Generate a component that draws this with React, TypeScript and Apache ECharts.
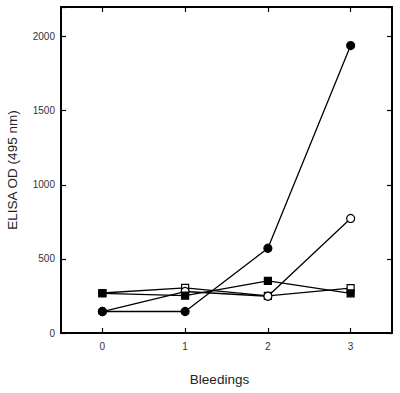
import React, { useEffect, useRef } from "react";
import * as echarts from "echarts";

const bleedings = ["0", "1", "2", "3"];
const openSquare = [270, 305, 250, 303];
const openCircle = [145, 280, 248, 773];
const filledCircle = [145, 145, 572, 1940];
const filledSquare = [268, 252, 352, 268];
const yTicks = [0, 500, 1000, 1500, 2000];

const FONT = "'Liberation Sans', Arial, Helvetica, sans-serif";

export default function App() {
  const ref = useRef<HTMLDivElement>(null);
  useEffect(() => {
    if (!ref.current) return;
    const chart = echarts.init(ref.current, undefined, { renderer: "svg" });
    const mk = (name: string, data: number[], symbol: string, filled: boolean, size: number) => ({
      name,
      type: "line",
      data,
      symbol,
      symbolSize: size,
      showAllSymbol: true,
      lineStyle: { color: "#000", width: 1.3 },
      itemStyle: { color: filled ? "#000" : "#fff", borderColor: "#000", borderWidth: 1.2 },
      emphasis: { disabled: true },
    });
    const frameLine = { show: true, onZero: false, lineStyle: { color: "#000", width: 2 } };
    const frameAxisTick = { show: true, inside: true, length: 5, lineStyle: { color: "#000", width: 1.2 } };
    chart.setOption({
      animation: false,
      grid: { left: 61, right: 8, top: 7, bottom: 60, containLabel: false, outerBoundsMode: "none" },
      xAxis: [
        {
          type: "category",
          data: bleedings,
          boundaryGap: true,
          name: "Bleedings",
          nameLocation: "middle",
          nameGap: 39,
          nameTextStyle: { fontFamily: FONT, fontSize: 13.5, color: "#222", padding: [0, 14, 0, 0] },
          axisLine: frameLine,
          axisTick: { alignWithLabel: true, ...frameAxisTick },
          axisLabel: { fontFamily: FONT, fontSize: 10, color: "#333", margin: 8 },
          splitLine: { show: false },
        },
        {
          type: "category",
          data: bleedings,
          position: "top",
          boundaryGap: true,
          axisLine: frameLine,
          axisTick: { alignWithLabel: true, ...frameAxisTick },
          axisLabel: { show: false },
          splitLine: { show: false },
        },
      ],
      yAxis: [
        {
          type: "value",
          min: 0,
          max: 2200,
          interval: 500,
          name: "ELISA OD (495 nm)",
          nameLocation: "middle",
          nameGap: 42,
          nameTextStyle: { fontFamily: FONT, fontSize: 13.5, color: "#222" },
          axisLine: frameLine,
          axisTick: frameAxisTick,
          axisLabel: {
            fontFamily: FONT,
            fontSize: 10,
            color: "#333",
            margin: 6,
            formatter: (v: number) => (yTicks.includes(v) ? String(v) : ""),
          },
          splitLine: { show: false },
        },
        {
          type: "value",
          min: 0,
          max: 2200,
          interval: 500,
          position: "right",
          axisLine: frameLine,
          axisTick: frameAxisTick,
          axisLabel: { show: false },
          splitLine: { show: false },
        },
      ],
      series: [
        mk("open square", openSquare, "rect", false, 7),
        mk("open circle", openCircle, "circle", false, 8),
        mk("filled circle", filledCircle, "circle", true, 8),
        mk("filled square", filledSquare, "rect", true, 7),
        {
          name: "frame",
          type: "line",
          xAxisIndex: 1,
          yAxisIndex: 1,
          data: filledSquare,
          symbol: "none",
          silent: true,
          lineStyle: { opacity: 0 },
        },
      ],
    });
    return () => chart.dispose();
  }, []);
  return <div ref={ref} style={{ width: 400, height: 393, position: "absolute", left: 0, top: 0 }} />;
}
